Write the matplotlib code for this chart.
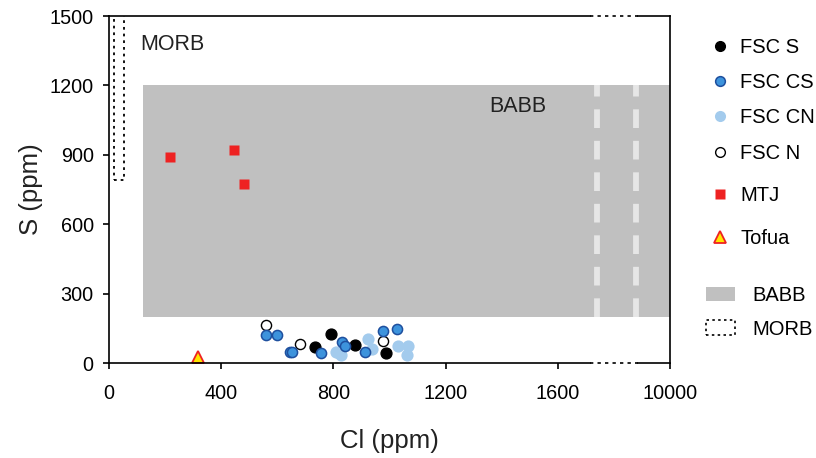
import numpy as np
import matplotlib.pyplot as plt
from matplotlib.patches import Rectangle
from matplotlib.lines import Line2D

plt.rcParams['font.family'] = ['Liberation Sans', 'DejaVu Sans']

# x axis is broken: 1600 ... 10000, last tick sits at 2000 on the plotting scale
xticks = [0, 400, 800, 1200, 1600, 2000]
xticklabels = ['0', '400', '800', '1200', '1600', '10000']
yticks = [0, 300, 600, 900, 1200, 1500]

# data (Cl, S) in ppm
fsc_s_cl = [733, 791, 876, 989]
fsc_s_s = [71, 124, 79, 43]

fsc_cs_cl = [558, 598, 645, 652, 754, 830, 841, 912, 976, 1026]
fsc_cs_s = [120, 122, 46, 46, 42, 91, 75, 46, 138, 146]

fsc_cn_cl = [808, 820, 826, 924, 937, 1030, 1067, 1062]
fsc_cn_s = [49, 42, 33, 102, 60, 75, 75, 35]

fsc_n_cl = [561, 680, 977]
fsc_n_s = [163, 81, 94]

mtj_cl = [217, 446, 483]
mtj_s = [890, 921, 774]

tofua_cl = [318]
tofua_s = [26]

# fields
babb_box = (120, 200, 2000, 1200)   # x0, y0, x1, y1
morb_box = (18, 790, 53, 1600)
breaks = [1740, 1880]

fig = plt.figure(figsize=(8.16, 4.58), dpi=100)
ax = fig.add_axes([0.1336, 0.2074, 0.6875, 0.7576])

# BABB field
ax.add_patch(Rectangle((babb_box[0], babb_box[1]), babb_box[2] - babb_box[0],
                       babb_box[3] - babb_box[1], facecolor='#c0c0c0',
                       edgecolor='none', zorder=1))
for b in breaks:
    ax.plot([b, b], [babb_box[1], babb_box[3]], color='#e6e6e6', lw=4.2,
            linestyle=(0, (3.2, 2.2)), zorder=2)
# MORB field
ax.add_patch(Rectangle((morb_box[0], morb_box[1]), morb_box[2] - morb_box[0],
                       morb_box[3] - morb_box[1], facecolor='none',
                       edgecolor='black', lw=1.3, linestyle=(0, (1.5, 2.2)),
                       zorder=2))
ax.text(110, 1375, 'MORB', fontsize=15.5, color='#222222', va='center')
ax.text(1356, 1107, 'BABB', fontsize=15.5, color='#222222', va='center')

ax.plot(fsc_n_cl, fsc_n_s, 'o', mfc='white', mec='black', mew=1.0, ms=7.3, zorder=3)
ax.plot(fsc_s_cl, fsc_s_s, 'o', mfc='black', mec='black', ms=7.8, zorder=3)
ax.plot(fsc_cn_cl, fsc_cn_s, 'o', mfc='#a3cbed', mec='none', ms=8.8, zorder=3)
ax.plot(fsc_cs_cl, fsc_cs_s, 'o', mfc='#3d93dc', mec='#1e4f9e', mew=1.1, ms=7.3, zorder=4)
ax.plot(mtj_cl, mtj_s, 's', mfc='#ee2222', mec='none', ms=7, zorder=3)
ax.plot(tofua_cl, tofua_s, '^', mfc='#ffe600', mec='#ee2222', mew=1.3, ms=8.5, zorder=3)

ax.set_xlim(0, 2000)
ax.set_ylim(0, 1500)
ax.set_xticks(xticks)
ax.set_xticklabels(xticklabels)
ax.set_yticks(yticks)
ax.tick_params(labelsize=14.3, length=4, width=1.2, colors='black')
ax.tick_params(axis='x', pad=11)
ax.tick_params(axis='y', pad=7)
ax.set_xlabel('Cl (ppm)', fontsize=18.5, labelpad=19, color='#222222')
ax.set_ylabel('S (ppm)', fontsize=18.5, labelpad=5, color='#222222')

# broken top/bottom spines
ax.spines['top'].set_visible(False)
ax.spines['bottom'].set_visible(False)
ax.spines['left'].set_linewidth(1.2)
ax.spines['right'].set_linewidth(1.2)
ax.spines['right'].set_zorder(5)
tr = ax.get_xaxis_transform()
for yy in [0, 1]:
    ax.plot([0, 1715], [yy, yy], color='black', lw=1.2, transform=tr, clip_on=False, zorder=5)
    ax.plot([1715, 1885], [yy, yy], color='black', lw=1.2, linestyle=(0, (2, 2.5)),
            transform=tr, clip_on=False, zorder=5)
    ax.plot([1885, 2000], [yy, yy], color='black', lw=1.2, transform=tr, clip_on=False, zorder=5)

# legends
h1 = [Line2D([], [], ls='none', marker='o', mfc='black', mec='black', ms=7),
      Line2D([], [], ls='none', marker='o', mfc='#3d93dc', mec='#1e4f9e', mew=1.1, ms=7),
      Line2D([], [], ls='none', marker='o', mfc='#a3cbed', mec='none', ms=8),
      Line2D([], [], ls='none', marker='o', mfc='white', mec='black', ms=7)]
leg1 = fig.legend(h1, ['FSC S', 'FSC CS', 'FSC CN', 'FSC N'], loc='upper left',
                  bbox_to_anchor=(0.848, 0.956), frameon=False, fontsize=14.5,
                  handlelength=1.0, handletextpad=0.5, labelspacing=0.8)
h2 = [Line2D([], [], ls='none', marker='s', mfc='#ee2222', mec='none', ms=7),
      Line2D([], [], ls='none', marker='^', mfc='#ffe600', mec='#ee2222', mew=1.3, ms=8)]
leg2 = fig.legend(h2, ['MTJ', 'Tofua'], loc='upper left',
                  bbox_to_anchor=(0.848, 0.634), frameon=False, fontsize=14.5,
                  handlelength=1.0, handletextpad=0.5, labelspacing=1.2)
h3 = [Rectangle((0, 0), 1, 1, facecolor='#c0c0c0', edgecolor='none'),
      Rectangle((0, 0), 1, 1, facecolor='none', edgecolor='black', lw=1.2,
                linestyle=(0, (1.5, 2)))]
leg3 = fig.legend(h3, ['BABB', 'MORB'], loc='upper left',
                  bbox_to_anchor=(0.843, 0.415), frameon=False, fontsize=14.5,
                  handlelength=1.45, handleheight=0.75, handletextpad=0.85, labelspacing=0.72)

fig.savefig('out.png', dpi=100)
